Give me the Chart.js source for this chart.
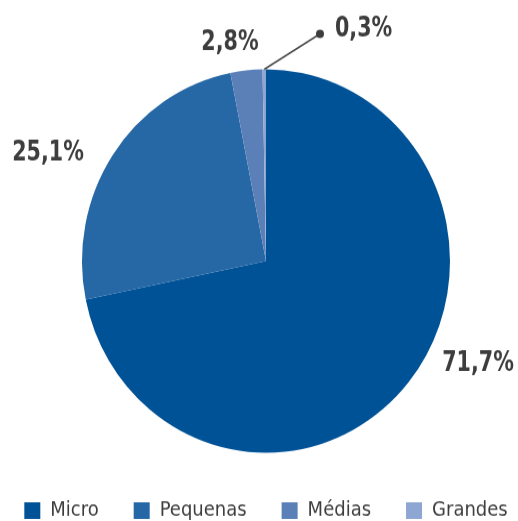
<!DOCTYPE html>
<html>
<head>
<meta charset="utf-8">
<script src="https://cdn.jsdelivr.net/npm/chart.js@4/dist/chart.umd.min.js"></script>
<style>
  html, body { margin: 0; padding: 0; background: #fff; }
  canvas { display: block; }
</style>
</head>
<body>
<!-- drawn 500 tall and shown 521 tall: the original pie is a little taller than wide -->
<canvas id="pie" width="518" height="500" style="width:518px;height:521px"></canvas>
<script>
// data
var categories = ['Micro', 'Pequenas', 'Médias', 'Grandes'];
var shares = [71.7, 25.1, 2.8, 0.3];
var shareLabels = ['71,7%', '25,1%', '2,8%', '0,3%'];
var colors = ['#005296', '#2667a6', '#5b80b8', '#8ea6d2'];

// label offsets from the pie centre (canvas px)
var labelOffsets = [[212, 98], [-218, -104], [-36, -210], [54, -218]];

var pieLabels = {
  id: 'pieLabels',
  afterDatasetsDraw: function(chart) {
    var ctx = chart.ctx;
    var arcs = chart.getDatasetMeta(0).data;
    ctx.save();
    ctx.font = 'bold 27px "DejaVu Sans Condensed", "DejaVu Sans", sans-serif';
    ctx.fillStyle = '#3d3d3d';
    ctx.textBaseline = 'middle';
    arcs.forEach(function(arc, i) {
      var px = arc.x + labelOffsets[i][0];
      var py = arc.y + labelOffsets[i][1];
      var tx = px, ty = py;
      if (i === 3) {
        // leader line for the tiny slice
        var mid = (arc.startAngle + arc.endAngle) / 2;
        var sx = arc.x + Math.cos(mid) * arc.outerRadius;
        var sy = arc.y + Math.sin(mid) * arc.outerRadius;
        ctx.strokeStyle = '#4a4a4a';
        ctx.lineWidth = 1.5;
        ctx.beginPath();
        ctx.moveTo(sx, sy);
        ctx.lineTo(px, py);
        ctx.stroke();
        ctx.beginPath();
        ctx.arc(px, py, 4, 0, Math.PI * 2);
        ctx.fill();
        ctx.textAlign = 'left';
        tx = px + 15;
        ty = py - 5;
      } else {
        ctx.textAlign = 'center';
      }
      ctx.save();
      ctx.translate(tx, ty);
      ctx.scale(0.85, 1); // narrow the type a bit
      ctx.fillText(shareLabels[i], 0, 0);
      ctx.restore();
    });
    ctx.restore();
  }
};

// keep the legend on one row and fix its height
var legendFit = {
  id: 'legendFit',
  beforeInit: function(chart) {
    var origFit = chart.legend.fit;
    chart.legend.fit = function() {
      var w = this.maxWidth;
      this.maxWidth = 1000;
      origFit.call(this);
      this.maxWidth = w;
      this.width = w;
      this.height = 55;
    };
  },
  afterLayout: function(chart) {
    // widen the box evenly so the last item is not pushed to a new row
    chart.legend.left -= 100;
    chart.legend.right += 100;
  }
};

var pie = document.getElementById('pie');
var pieChart = new Chart(pie, {
  type: 'pie',
  data: {
    labels: categories,
    datasets: [{
      data: shares,
      backgroundColor: colors,
      borderWidth: 0,
      radius: 184
    }]
  },
  options: {
    responsive: false,
    animation: false,
    layout: { padding: { top: 56, left: 14, right: 0, bottom: 0 } },
    plugins: {
      legend: {
        position: 'bottom',
        labels: {
          boxWidth: 16,
          boxHeight: 16,
          padding: 35,
          color: '#3d3d3d',
          font: { family: '"DejaVu Sans Condensed", "DejaVu Sans", sans-serif', size: 20 }
        }
      },
      tooltip: { enabled: false }
    }
  },
  plugins: [pieLabels, legendFit]
});
</script>
</body>
</html>
